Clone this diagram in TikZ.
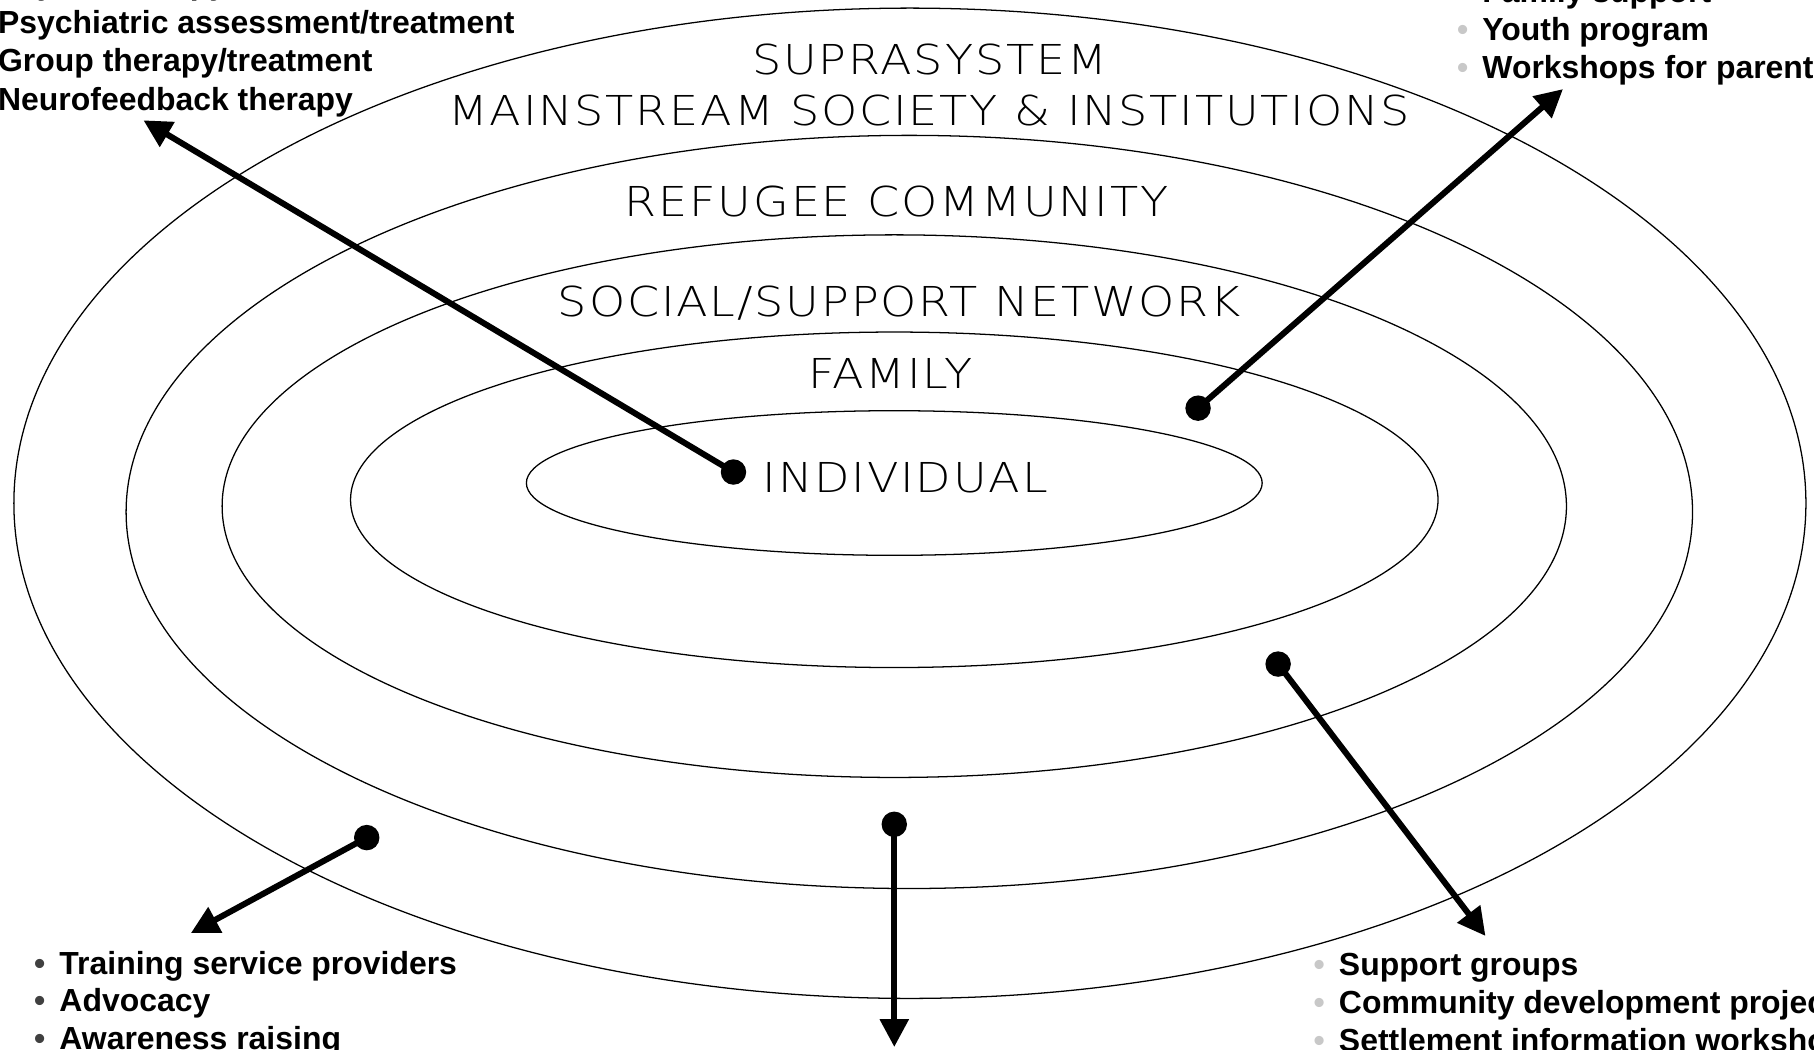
\documentclass[tikz,border=0pt]{standalone}
\usepackage{fontspec}
\setmainfont{Liberation Sans}
\newfontfamily\ringfont[LetterSpace=4.4,FakeStretch=1.12]{DejaVu Sans ExtraLight}
\usetikzlibrary{arrows.meta}
\definecolor{ltgray}{RGB}{200,200,200}
\definecolor{dkgray}{RGB}{64,64,64}
\newcommand{\bul}[1]{\makebox[11pt][l]{\textcolor{#1}{\textbullet}}}

\begin{document}
\begin{tikzpicture}[x=0.5pt,y=-0.5pt,
    ring/.style={line width=0.55pt},
    lvl/.style={font=\ringfont\fontsize{17.8}{20}\selectfont,anchor=base,inner sep=0pt},
    item/.style={font=\bfseries\fontsize{13.8}{16}\selectfont,anchor=base west,inner sep=0pt},
    dot/.style={circle,fill,inner sep=0pt,minimum size=11pt},
    link/.style={line width=2.6pt,-{Triangle[length=12pt,width=12pt]}}]
    \useasboundingbox (0,0) rectangle (1568,907);
    \clip (0,0) rectangle (1568,907);

    % rings
    \draw[ring] (786.5,435) ellipse [x radius=774.5, y radius=428];
    \draw[ring] (786,442.5) ellipse [x radius=677, y radius=325.5];
    \draw[ring] (773,437.5) ellipse [x radius=581, y radius=234.5];
    \draw[ring] (773,432) ellipse [x radius=470, y radius=145];
    \draw[ring] (773,417.5) ellipse [x radius=318, y radius=62.5];

    \node[lvl] (supra) at (803.5,64.8) {SUPRASYSTEM};
    \node[lvl] (mainstr) at (803,108.5) {MAINSTREAM SOCIETY \& INSTITUTIONS};
    \node[lvl] (refugee) at (775,187.3) {REFUGEE COMMUNITY};
    \node[lvl] (social) at (777.5,273.7) {SOCIAL/SUPPORT NETWORK};
    \node[lvl] (family) at (769.5,335.4) {FAMILY};
    \node[lvl] (indiv) at (782.5,425.3) {INDIVIDUAL};

    % interventions
    \node[item] (psycho) at (-2,-4.4) {Psychotherapy};
    \node[item] (psych) at (-2,28.8) {Psychiatric assessment/treatment};
    \node[item] (group) at (-2,62) {Group therapy/treatment};
    \node[item] (neuro) at (-2,95.2) {Neurofeedback therapy};

    \node[item] (famsup) at (1259,2.5) {\bul{ltgray}Family support};
    \node[item] (youth) at (1259,35) {\bul{ltgray}Youth program};
    \node[item] (parents) at (1259,67.5) {\bul{ltgray}Workshops for parents};

    \node[item] (training) at (29,842) {\bul{dkgray}Training service providers};
    \node[item] (advocacy) at (29,874.5) {\bul{dkgray}Advocacy};
    \node[item] (aware) at (29,907) {\bul{dkgray}Awareness raising};

    \node[item] (supgr) at (1135,843.6) {\bul{ltgray}Support groups};
    \node[item] (commdev) at (1135,876) {\bul{ltgray}Community development projects};
    \node[item] (settle) at (1135,908.5) {\bul{ltgray}Settlement information workshops};

    % pointers
    \node[dot] (dInd) at (634,408) {};
    \node[dot] (dFam) at (1035.6,352.8) {};
    \node[dot] (dSoc) at (1104.8,574) {};
    \node[dot] (dRef) at (773,712.5) {};
    \node[dot] (dSup) at (317,724) {};
    \coordinate (tInd) at (124,104);
    \coordinate (tFam) at (1351,77);
    \coordinate (tSoc) at (1284,809);
    \coordinate (tRef) at (773,905);
    \coordinate (tSup) at (165,806.5);

    \draw[link] (dInd.center) -- (tInd);
    \draw[link] (dFam.center) -- (tFam);
    \draw[link] (dSoc.center) -- (tSoc);
    \draw[link] (dRef.center) -- (tRef);
    \draw[link] (dSup.center) -- (tSup);
\end{tikzpicture}
\end{document}
